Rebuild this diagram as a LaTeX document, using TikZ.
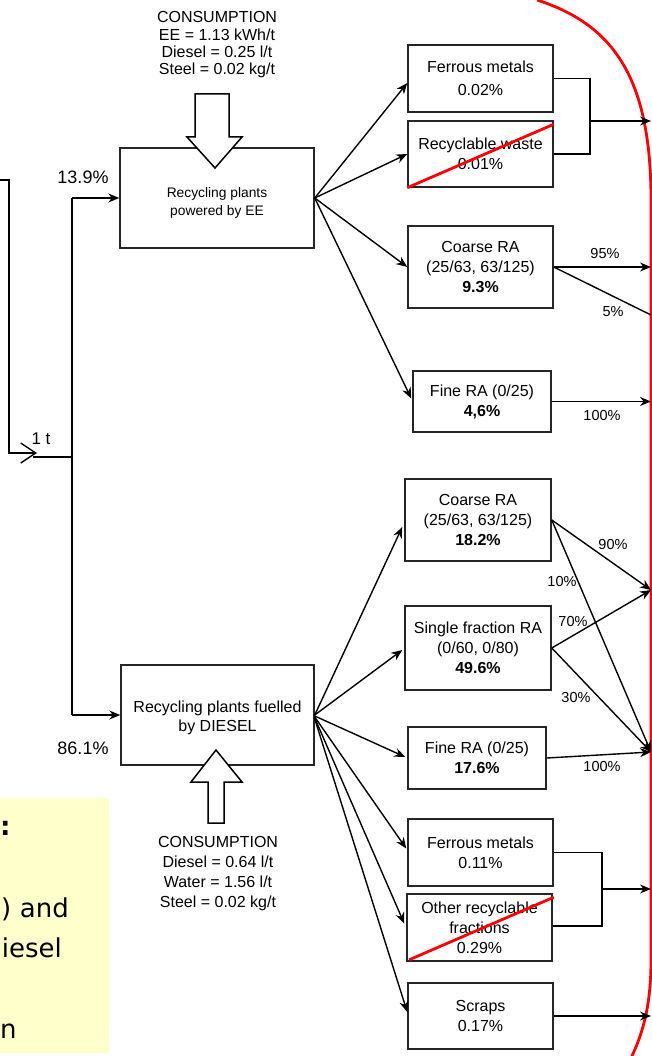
\documentclass[tikz,border=0pt]{standalone}
\usepackage{fontspec}
\setmainfont{Liberation Sans}
\newfontfamily\slidefont{DejaVu Sans}
\usetikzlibrary{arrows.meta,calc}
\definecolor{notebg}{HTML}{FFFFCC}
\tikzset{
  box/.style={draw=black!85, line width=1.5pt, align=center, inner sep=0pt, fill=white,
              font=\fontsize{16}{20}\selectfont},
  conn/.style={line width=1.4pt, -{Stealth[length=11pt,width=9pt]}},
  plain/.style={line width=1.4pt},
  pct/.style={font=\fontsize{14.5}{16}\selectfont, inner sep=0pt},
  bigpct/.style={font=\fontsize{18}{20}\selectfont, inner sep=0pt},
  cons/.style={align=center, inner sep=0pt},
  redx/.style={red, line width=2.8pt},
  redcurve/.style={red, line width=2.8pt},
  blockarrow/.style={draw, fill=white, line width=1.5pt, line join=miter},
  slide/.style={font=\slidefont\fontsize{26}{30}\selectfont, inner sep=0pt},
}
\begin{document}
\begin{tikzpicture}[x=1pt,y=-1pt]
\useasboundingbox (0,0) rectangle (652,1056);

% yellow note (clipped)
\fill[notebg] (0,798) rectangle (109,1053);
\node[slide, anchor=base west] (n1) at (0,835) {\bfseries :};
\node[slide, anchor=base west] (n2) at (1,917) {)\,\,and};
\node[slide, anchor=base east] (n3) at (62,957) {iesel};
\node[slide, anchor=base west] (n4) at (0,1038) {n};

% red boundary
\draw[redcurve] (537,0) .. controls (615,25) and (651,80) .. (651,200) -- (651,960)
  .. controls (651,1000) and (645,1030) .. (630,1060);

% main boxes
\node[box, minimum width=194pt, minimum height=100pt] (ee) at (217,198) {};
\node[cons, font=\fontsize{13.8}{18}\selectfont] (eetxt) at (217,203) {Recycling plants\\powered by EE};
\node[box, minimum width=193pt, minimum height=100pt] (dsl) at (217.5,715) {};
\node[cons, font=\fontsize{16}{19}\selectfont] (dsltxt) at (217.5,718) {Recycling plants fuelled\\by DIESEL};

% block arrows
\draw[blockarrow] (195,94) -- (229,94) -- (229,137) -- (242,137) -- (215,168) -- (187,137) -- (195,137) -- cycle;
\draw[blockarrow] (208,823) -- (224,823) -- (224,782) -- (242,782) -- (216,750) -- (191,782) -- (208,782) -- cycle;

\node[cons, font=\fontsize{16}{17.3}\selectfont] (c1) at (217,45) {CONSUMPTION\\EE = 1.13 kWh/t\\Diesel = 0.25 l/t\\Steel = 0.02 kg/t};
\node[cons, font=\fontsize{16}{20}\selectfont] (c2) at (218,874) {CONSUMPTION\\Diesel = 0.64 l/t\\Water = 1.56 l/t\\Steel = 0.02 kg/t};

% output boxes EE
\node[box, minimum width=145pt, minimum height=67pt, font=\fontsize{16}{23}\selectfont] (fm1) at (480.5,78.5) {Ferrous metals\\0.02\%};
\node[box, minimum width=145pt, minimum height=66pt] (rw) at (480.5,154) {Recyclable waste\\0.01\%};
\node[box, minimum width=145pt, minimum height=82pt] (cra1) at (480.5,267) {Coarse RA\\(25/63, 63/125)\\\textbf{9.3\%}};
\node[box, minimum width=138pt, minimum height=61pt] (fra1) at (482,401.5) {Fine RA (0/25)\\\textbf{4,6\%}};

% output boxes diesel
\node[box, minimum width=146pt, minimum height=82pt] (cra2) at (478,520) {Coarse RA\\(25/63, 63/125)\\\textbf{18.2\%}};
\node[box, minimum width=146pt, minimum height=84pt] (sfra) at (478,648) {Single fraction RA\\(0/60, 0/80)\\\textbf{49.6\%}};
\node[box, minimum width=138pt, minimum height=62pt] (fra2) at (477,758) {Fine RA (0/25)\\\textbf{17.6\%}};
\node[box, minimum width=145pt, minimum height=67pt] (fm2) at (480.5,852.5) {Ferrous metals\\0.11\%};
\node[box, minimum width=145pt, minimum height=67pt] (orf) at (479.5,927.5) {Other recyclable\\fractions\\0.29\%};
\node[box, minimum width=145pt, minimum height=66pt] (scr) at (480.5,1016) {Scraps\\0.17\%};

% red strike-through
\draw[redx] (rw.south west) -- ($(rw.north east)+(0,4)$);
\draw[redx] ($(orf.south west)+(3,-2)$) -- ($(orf.north east)+(1,4)$);

% input
\coordinate (in0) at (0,180);
\coordinate (in1) at (9,180);
\coordinate (in2) at (9,453);
\coordinate (in3) at (37,453);
\draw[plain, -{Straight Barb[length=15pt,width=20pt]}] (in0) -- (in1) -- (in2) -- (in3);
\node[pct, font=\fontsize{17}{18}\selectfont] (one) at (41,439) {1 t};

% split
\coordinate (s0) at (33,457);
\coordinate (s1) at (72,457);
\coordinate (sT) at (72,198);
\coordinate (sB) at (72,715);
\draw[plain] (s0) -- (s1);
\draw[plain] (sB) -- (sT);
\draw[conn] (sT) -- (ee.west);
\draw[conn] (sB) -- (dsl.west);
\node[bigpct] (p139) at (83,177) {13.9\%};
\node[bigpct] (p861) at (83,748) {86.1\%};

% EE fan
\draw[conn] (ee.east) -- ($(fm1.west)+(0,4.5)$);
\draw[conn] (ee.east) -- (rw.west);
\draw[conn] (ee.east) -- (cra1.west);
\draw[conn] (ee.east) -- ($(fra1.west)+(-1,-3)$);

% Diesel fan
\draw[conn] (dsl.east) -- ($(cra2.west)+(-2,7)$);
\draw[conn] (dsl.east) -- ($(sfra.west)+(-2,2)$);
\draw[conn] ($(dsl.east)+(0,1)$) -- ($(fra2.west)+(-2,-1)$);
\draw[conn] ($(dsl.east)+(0,2)$) -- ($(fm2.west)+(-1,-4)$);
\draw[conn] ($(dsl.east)+(0,3)$) -- ($(orf.west)+(-2,-4)$);
\draw[conn] ($(dsl.east)+(0,4)$) -- ($(scr.west)+(0,-4)$);

% right targets
\coordinate (t1) at (651,121);
\coordinate (t2) at (651,267);
\coordinate (t3) at (651,315);
\coordinate (t4) at (651,401.5);
\coordinate (t5) at (651,590);
\coordinate (t6) at (651,752);
\coordinate (t7) at (651,889);
\coordinate (t8) at (651,1016);

% EE brackets and flows
\coordinate (b1a) at (590,78.5);
\coordinate (b1b) at (590,154);
\coordinate (b1m) at (590,121);
\draw[plain] (fm1.east) -- (b1a) -- (b1b) -- (rw.east);
\draw[conn] (b1m) -- (t1);
\draw[conn] (cra1.east) -- (t2);
\node[pct] (p95) at (605,254) {95\%};
\draw[plain] (cra1.east) -- (t3);
\node[pct] (p5) at (613,312) {5\%};
\draw[conn] (fra1.east) -- (t4);
\node[pct] (p100a) at (602,416) {100\%};

% Diesel flows
\draw[conn] (cra2.east) -- (t5);
\draw[conn] (cra2.east) -- (t6);
\node[pct] (p90) at (613,545) {90\%};
\node[pct] (p10) at (562,582) {10\%};
\draw[conn] (sfra.east) -- (t5);
\draw[conn] (sfra.east) -- (t6);
\node[pct] (p70) at (573,622) {70\%};
\node[pct] (p30) at (576,698) {30\%};
\draw[conn] (fra2.east) -- (t6);
\node[pct] (p100b) at (602,767) {100\%};

\coordinate (b2a) at (602,852.5);
\coordinate (b2b) at (602,926);
\coordinate (b2m) at (602,889);
\draw[plain] (fm2.east) -- (b2a) -- (b2b) -- ($(orf.east)+(0,-1.5)$);
\draw[conn] (b2m) -- (t7);
\draw[conn] (scr.east) -- (t8);
\end{tikzpicture}
\end{document}
